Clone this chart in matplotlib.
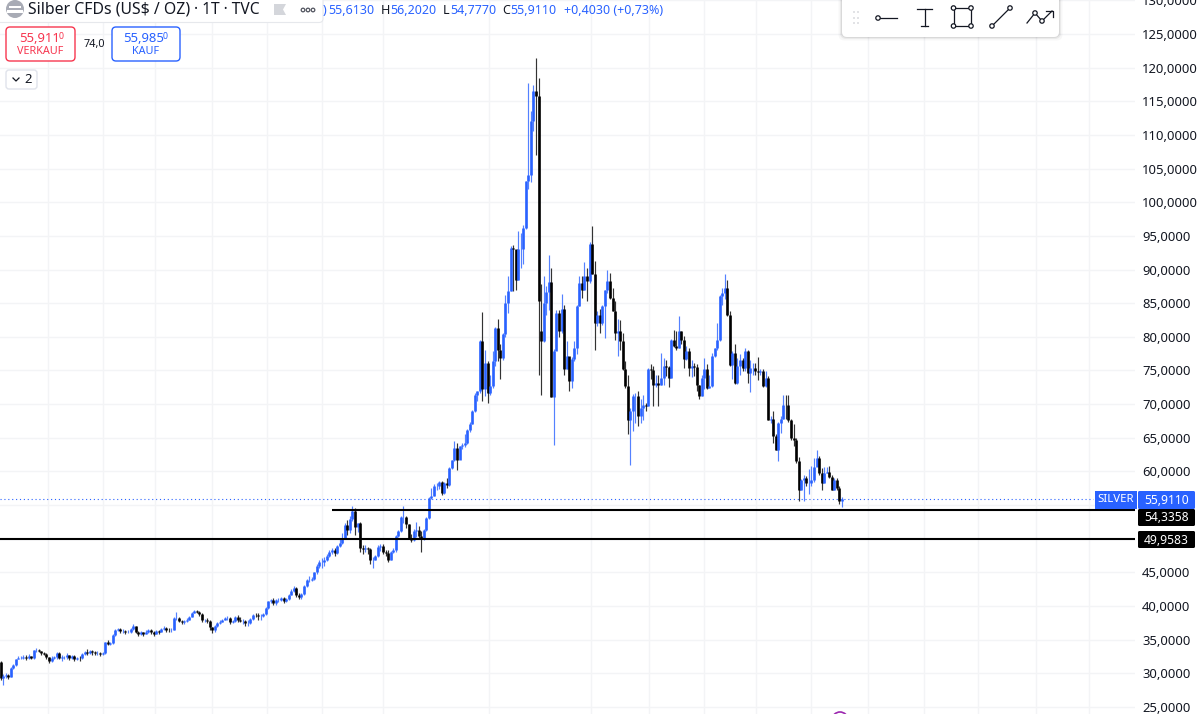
import matplotlib
matplotlib.use("Agg")
import matplotlib.pyplot as plt
from matplotlib.patches import FancyBboxPatch, Rectangle, Circle, Polygon

plt.rcParams['font.family'] = ['Noto Sans', 'DejaVu Sans']

# daily closes, ten bars per row
closes = [
    29.3, 29.6, 29.8, 29.5, 30.8, 31.2, 32.1, 32.3, 32.35, 32.5,
    32.3, 32.6, 32.3, 33.4, 33.5, 33.25, 33.0, 32.9, 32.4, 31.9,
    32.25, 32.4, 33.0, 32.3, 32.4, 32.4, 32.7, 32.25, 32.6, 32.1,
    32.3, 32.25, 32.9, 33.1, 33.0, 33.25, 33.1, 33.0, 33.0, 32.85,
    33.0, 34.6, 34.4, 34.5, 35.7, 36.5, 36.6, 36.3, 36.3, 36.2,
    36.2, 36.6, 37.0, 36.2, 35.9, 36.1, 35.9, 36.2, 36.4, 36.1,
    35.9, 36.3, 36.2, 36.6, 36.8, 36.5, 36.4, 36.5, 38.2, 38.2,
    37.85, 37.65, 37.8, 37.95, 38.35, 38.95, 39.2, 39.15, 38.85, 37.95,
    37.95, 37.85, 36.85, 36.4, 37.0, 37.45, 37.7, 37.95, 38.15, 38.2,
    37.7, 37.85, 38.35, 37.95, 37.85, 37.85, 37.45, 37.55, 38.05, 38.7,
    38.6, 38.45, 38.45, 38.8, 39.7, 40.7, 40.9, 40.5, 40.9, 40.9,
    41.2, 40.8, 41.0, 41.7, 42.3, 42.7, 41.7, 41.3, 41.8, 43.0,
    43.9, 43.9, 44.0, 45.0, 46.0, 46.6, 46.6, 46.9, 47.4, 48.1,
    48.35, 47.85, 48.85, 49.35, 50.0, 52.1, 51.3, 52.9, 54.1, 51.8,
    52.3, 48.6, 48.5, 48.6, 48.5, 46.9, 46.9, 47.4, 48.75, 48.85,
    48.1, 47.85, 46.9, 48.0, 48.35, 50.35, 51.1, 53.2, 53.3, 52.2,
    50.1, 49.85, 51.1, 51.35, 50.35, 49.95, 51.35, 53.1, 56.05, 56.4,
    57.9, 57.9, 58.5, 56.8, 58.3, 58.0, 60.5, 61.65, 63.5, 61.75,
    63.75, 64.0, 64.3, 66.2, 67.0, 68.95, 71.4, 71.9, 79.4, 72.2,
    76.15, 71.7, 72.7, 76.4, 81.35, 78.1, 76.9, 80.4, 85.1, 86.8,
    93.25, 93.1, 88.5, 93.0, 93.0, 96.2, 103.2, 104.0, 112.1, 116.6,
    115.8, 85.3, 79.4, 85.1, 86.6, 88.1, 71.0, 77.9, 83.6, 80.9,
    84.1, 75.2, 77.1, 73.4, 76.7, 78.4, 84.6, 88.0, 87.0, 89.1,
    88.3, 93.75, 89.3, 82.1, 83.3, 82.1, 84.6, 87.0, 88.3, 85.8,
    83.8, 80.6, 80.9, 79.4, 75.2, 72.7, 67.7, 69.0, 71.2, 71.2,
    68.2, 69.45, 69.9, 69.7, 75.15, 75.05, 72.9, 73.1, 72.9, 73.9,
    75.65, 75.55, 73.9, 79.6, 78.7, 78.4, 80.85, 79.6, 76.7, 77.9,
    75.4, 75.65, 75.55, 72.9, 71.2, 73.9, 75.15, 72.4, 72.7, 77.1,
    78.4, 79.6, 86.1, 86.55, 87.3, 83.3, 75.75, 77.6, 73.15, 75.65,
    76.5, 75.4, 77.9, 74.65, 75.4, 75.4, 74.9, 74.75, 74.9, 72.7,
    73.9, 67.7, 67.8, 65.2, 63.25, 67.2, 67.8, 69.9, 69.8, 67.7,
    65.0, 64.7, 61.5, 57.3, 58.8, 59.0, 58.3, 58.3, 58.8, 60.7,
    62.0, 59.8, 58.3, 59.7, 59.9, 59.2, 57.3, 58.8, 57.5, 55.55,
    55.911,
]
highs = [
    31.8, 29.9, 30.1, 29.9, 30.9, 31.4, 32.2, 32.6, 32.6, 32.8,
    32.7, 32.9, 32.6, 33.5, 33.7, 33.6, 33.3, 33.2, 33.0, 32.4,
    32.6, 32.6, 33.2, 33.1, 32.7, 32.6, 33.0, 32.8, 32.8, 32.7,
    32.5, 32.6, 33.0, 33.3, 33.6, 33.5, 33.4, 33.3, 33.3, 33.2,
    33.2, 34.7, 34.9, 34.7, 35.8, 36.6, 36.8, 36.7, 36.6, 36.5,
    36.4, 36.7, 37.3, 37.0, 36.3, 36.3, 36.2, 36.4, 36.6, 36.6,
    36.3, 36.5, 36.5, 36.8, 37.1, 36.9, 36.8, 36.8, 38.3, 39.1,
    38.3, 38.0, 38.0, 38.2, 38.5, 39.1, 39.4, 39.4, 39.3, 38.9,
    38.1, 38.2, 37.9, 36.9, 37.2, 37.6, 37.9, 38.1, 38.3, 38.5,
    38.3, 38.0, 38.5, 38.6, 38.3, 38.1, 37.9, 37.9, 38.2, 38.8,
    39.0, 38.9, 38.8, 38.9, 39.8, 40.8, 41.1, 41.2, 41.1, 41.2,
    41.4, 41.3, 41.2, 41.8, 42.5, 43.0, 42.8, 41.9, 41.9, 43.1,
    44.0, 44.4, 44.3, 45.1, 46.2, 46.9, 47.1, 47.3, 47.8, 48.4,
    48.6, 48.6, 49.0, 50.1, 50.8, 52.4, 52.8, 53.4, 54.8, 54.6,
    52.4, 52.5, 49.0, 49.0, 48.8, 48.6, 47.3, 47.6, 49.1, 49.2,
    49.2, 48.4, 48.4, 48.2, 48.6, 50.5, 51.3, 53.4, 54.9, 53.4,
    52.2, 50.7, 51.5, 52.5, 51.9, 51.2, 51.5, 53.2, 56.2, 57.5,
    58.2, 58.3, 58.6, 58.6, 58.5, 59.0, 60.6, 61.7, 64.5, 64.2,
    63.8, 64.2, 65.5, 66.3, 67.3, 69.1, 71.6, 72.0, 79.6, 83.7,
    78.1, 76.4, 74.4, 77.9, 81.4, 82.7, 79.0, 80.5, 86.2, 89.0,
    93.5, 93.6, 92.5, 95.7, 95.5, 96.6, 103.2, 117.7, 113.6, 117.4,
    121.5, 118.4, 87.8, 89.0, 87.5, 92.1, 90.3, 78.2, 84.0, 84.0,
    86.3, 84.8, 79.4, 76.9, 77.0, 79.4, 84.7, 89.0, 89.0, 91.1,
    90.3, 94.1, 96.4, 91.3, 83.8, 84.1, 84.8, 87.0, 90.0, 89.5,
    87.3, 85.3, 82.6, 82.5, 80.6, 76.4, 74.4, 69.5, 71.5, 71.7,
    72.0, 70.7, 71.4, 70.2, 75.4, 75.9, 75.65, 74.4, 74.4, 77.6,
    76.9, 76.6, 75.65, 79.7, 81.0, 80.85, 83.1, 80.85, 80.1, 78.6,
    78.4, 76.6, 76.1, 76.0, 72.9, 74.4, 76.9, 75.9, 74.4, 77.6,
    78.4, 82.1, 86.2, 87.3, 89.4, 88.45, 83.8, 77.9, 78.9, 76.9,
    77.4, 76.9, 78.4, 78.1, 76.6, 76.1, 76.1, 77.0, 75.15, 75.25,
    74.9, 74.15, 68.2, 69.0, 65.5, 67.3, 68.2, 71.3, 71.3, 71.4,
    67.8, 67.0, 65.0, 62.15, 58.9, 59.5, 59.3, 60.35, 60.75, 62.0,
    63.15, 62.25, 60.5, 60.65, 60.65, 60.75, 59.5, 59.05, 59.05, 57.8,
    56.202,
]
lows = [
    29.0, 28.3, 29.3, 29.1, 29.4, 30.6, 31.1, 32.1, 32.1, 32.2,
    32.0, 32.2, 32.1, 32.2, 33.2, 33.1, 32.8, 32.7, 32.2, 31.5,
    31.7, 32.1, 32.2, 32.1, 31.9, 32.1, 32.2, 32.0, 32.1, 31.8,
    32.0, 31.9, 32.1, 32.8, 32.7, 32.9, 32.8, 32.7, 32.8, 32.6,
    32.8, 32.9, 34.2, 34.2, 34.4, 35.5, 36.3, 36.0, 36.0, 35.9,
    36.0, 36.0, 36.5, 36.0, 35.6, 35.7, 35.5, 35.8, 36.0, 35.8,
    35.5, 35.8, 35.9, 36.1, 36.4, 36.2, 36.1, 36.2, 36.4, 37.9,
    37.6, 37.4, 37.4, 37.6, 37.9, 38.3, 38.9, 38.9, 38.5, 37.7,
    37.6, 37.5, 36.5, 36.0, 36.2, 36.9, 37.4, 37.7, 37.9, 37.9,
    37.4, 37.5, 37.7, 37.6, 37.6, 37.4, 37.0, 37.1, 37.4, 38.0,
    38.3, 38.0, 37.9, 38.3, 38.7, 39.6, 40.4, 40.2, 40.2, 40.6,
    40.8, 40.5, 40.6, 40.9, 41.6, 42.1, 41.4, 41.0, 41.1, 41.7,
    42.9, 43.6, 43.7, 43.8, 44.8, 45.6, 45.7, 46.0, 46.7, 47.3,
    47.8, 47.4, 47.7, 48.7, 49.2, 49.9, 50.6, 50.8, 52.6, 50.6,
    51.0, 48.0, 47.8, 48.0, 47.7, 46.3, 45.7, 46.8, 47.3, 48.2,
    47.8, 47.4, 46.6, 46.8, 47.9, 48.0, 50.2, 51.0, 52.4, 51.6,
    49.9, 49.5, 49.7, 50.3, 50.0, 48.0, 49.8, 51.1, 52.9, 55.9,
    56.3, 57.2, 57.4, 56.5, 56.6, 57.6, 57.8, 60.4, 61.5, 60.2,
    61.8, 63.4, 63.7, 64.1, 65.8, 67.1, 68.9, 70.5, 71.7, 70.4,
    71.2, 70.1, 71.3, 72.4, 75.7, 76.4, 73.8, 76.6, 80.0, 83.6,
    86.8, 86.8, 87.0, 88.4, 90.3, 90.8, 96.0, 102.0, 103.0, 110.6,
    107.0, 74.4, 71.4, 79.2, 83.3, 84.0, 71.0, 64.0, 78.6, 80.0,
    80.6, 74.4, 75.2, 72.0, 72.4, 76.4, 77.4, 84.6, 85.8, 87.0,
    85.3, 88.0, 89.3, 78.1, 81.6, 80.6, 81.8, 79.9, 86.5, 85.6,
    83.8, 79.6, 77.1, 78.1, 75.0, 72.4, 65.5, 61.0, 66.0, 67.2,
    66.7, 67.2, 67.7, 69.0, 69.7, 73.8, 69.7, 72.6, 69.7, 72.8,
    72.9, 74.15, 72.55, 73.9, 78.5, 78.1, 78.4, 78.9, 75.4, 76.6,
    74.15, 74.05, 74.15, 71.9, 70.8, 71.2, 72.2, 72.2, 72.4, 72.55,
    77.0, 78.1, 79.4, 84.8, 85.6, 83.1, 75.65, 73.8, 73.05, 73.05,
    74.4, 74.9, 74.9, 73.15, 71.8, 74.4, 74.4, 73.65, 74.4, 72.5,
    72.55, 67.6, 67.2, 64.3, 63.25, 61.5, 65.7, 67.8, 67.8, 67.3,
    64.7, 63.85, 61.25, 55.55, 57.3, 55.55, 57.8, 56.7, 57.8, 58.5,
    61.8, 59.5, 57.2, 58.3, 59.7, 59.0, 57.2, 57.3, 57.3, 55.2,
    54.777,
]
first_open = 31.7
# bars that did not open at the previous close
open_gaps = {212: 80.9, 330: 55.613}

price_ticks = list(range(25, 135, 5))
# 50 and 55 sit behind the price tags in the original
price_labels = ["25,0000", "30,0000", "35,0000", "40,0000", "45,0000", "",
                "", "60,0000", "65,0000", "70,0000", "75,0000", "80,0000",
                "85,0000", "90,0000", "95,0000", "100,0000", "105,0000", "110,0000",
                "115,0000", "120,0000", "125,0000", "130,0000"]
bold_labels = ["30,0000", "40,0000", "60,0000", "70,0000", "80,0000", "90,0000",
               "100,0000", "110,0000", "120,0000", "130,0000"]
# bar numbers of the vertical grid lines
grid_bars = [18.6, 40.2, 60.6, 83, 104.5, 126, 150, 191.6, 231.6, 254.3, 276, 296.3, 318, 340.2, 362.2, 383.3, 406, 427]

level_high = 54.3358
level_low = 49.9583
last_price = 55.9110

BLUE = "#2962ff"
RED = "#f7364f"
INK = "#131722"

opens = [first_open] + closes[:-1]
for bar, value in open_gaps.items():
    opens[bar] = value
bars = list(range(len(closes)))
colors = [BLUE if c >= o else "black" for o, c in zip(opens, closes)]

fig = plt.figure(figsize=(12, 7.14), dpi=100)
ax = fig.add_axes([0, 0, 1135 / 1200, 1])
ax.set_xlim(-0.2, 444.9)
ax.set_ylim(23.96, 130.05)

ax.set_xticks(grid_bars)
ax.set_xticklabels([])
ax.set_yticks(price_ticks)
ax.set_yticklabels(price_labels)
ax.yaxis.tick_right()
ax.tick_params(length=0, pad=5)
ax.tick_params(axis="y", labelsize=9.4, labelcolor=INK)
for label in ax.get_yticklabels():
    label.set_fontweight("semibold" if label.get_text() in bold_labels else "normal")
for side in ax.spines.values():
    side.set_visible(False)
ax.grid(color="#f3f4f6", lw=1)
ax.set_axisbelow(True)

# candles
ax.vlines(bars, lows, highs, colors=colors, lw=0.85, alpha=0.8, zorder=2)
ax.vlines(bars, opens, closes, colors=colors, lw=1.9, zorder=3)

# price lines
ax.axhline(last_price, xmax=1093 / 1135, color=BLUE, lw=0.8, ls=(0, (1, 2.5)), zorder=1)
ax.hlines(level_high, 130, 444.9, color="black", lw=1.5, zorder=4)
ax.axhline(level_low, color="black", lw=1.5, zorder=4)

# everything from here on is screen furniture, in pixels
ui = fig.add_axes([0, 0, 1, 1], facecolor="none")
ui.set_xlim(0, 1200)
ui.set_ylim(714, 0)
ui.axis("off")


def box(x, y, w, h, face="white", edge="none", lw=1, rad=3):
    ui.add_patch(FancyBboxPatch((x, y), w, h, boxstyle=f"round,pad=0,rounding_size={rad}",
                                fc=face, ec=edge, lw=lw))


# price axis tags
ui.add_patch(Rectangle((1095, 491), 42, 18, fc=BLUE))
ui.text(1116, 500, "SILVER", color="white", fontsize=8.2, ha="center", va="center")
box(1138, 491, 57, 18, BLUE, rad=1.5)
ui.text(1166.5, 500, "55,9110", color="white", fontsize=8.7, ha="center", va="center")
box(1138, 509, 57, 17, "black", rad=1.5)
ui.text(1166.5, 517.5, "54,3358", color="white", fontsize=8.7, ha="center", va="center")
box(1138, 531, 57, 17, "black", rad=1.5)
ui.text(1166.5, 540, "49,9583", color="white", fontsize=8.7, ha="center", va="center")

# header
box(-4, -4, 327, 26.5, "white", "#e6e8ec", 0.8, 4)
ui.add_patch(Circle((15, 9), 9, fc="#a8abb5", ec="none"))
ui.add_patch(Rectangle((9, 6), 12, 2, fc="white"))
ui.add_patch(Rectangle((7, 10), 16, 2.5, fc="white"))
ui.text(28, 10, "Silber CFDs (US$ / OZ)", color=INK, fontsize=11.4, va="center")
ui.text(194, 10, "· 1T · TVC", color=INK, fontsize=11.2, va="center")
ui.add_patch(Polygon([(274, 4), (286, 4), (283, 9.5), (286, 15), (274, 15)], fc="#d4d6db"))
for px in (303, 308, 313):
    ui.add_patch(Circle((px, 10), 1.8, fc="none", ec="#50535e", lw=0.9))

ui.text(325, 10, ")", color=BLUE, fontsize=9, va="center", ha="center")
for px, head, gap, value in [(328, "", 0, "55,6130"), (381, "H", 9, "56,2020"),
                             (443, "L", 7, "54,7770"), (502, "C", 8, "55,9110")]:
    if head:
        ui.text(px, 10, head, color=INK, fontsize=9, va="center")
    ui.text(px + gap, 10, value, color=BLUE, fontsize=9, va="center")
ui.text(564, 10, "+0,4030 (+0,73%)", color=BLUE, fontsize=9, va="center")

# sell / buy boxes
box(6, 27, 69, 34, "white", RED, 1, 4)
ui.text(40, 39, "55,911", color=RED, fontsize=9.4, ha="center", va="center", weight="semibold")
ui.text(59, 36.5, "0", color=RED, fontsize=6.4, ha="left", va="center")
ui.text(40, 52, "VERKAUF", color=RED, fontsize=7.8, ha="center", va="center")
ui.text(94, 44, "74,0", color=INK, fontsize=7.8, ha="center", va="center")
box(112, 27, 68, 34, "white", BLUE, 1, 4)
ui.text(144, 39, "55,985", color=BLUE, fontsize=9.4, ha="center", va="center", weight="semibold")
ui.text(163, 36.5, "0", color=BLUE, fontsize=6.4, ha="left", va="center")
ui.text(146, 52, "KAUF", color=BLUE, fontsize=7.8, ha="center", va="center")
box(6, 70, 31, 19, "white", "#e0e3eb", 1, 3)
ui.plot([13, 16, 19], [78, 81, 78], color=INK, lw=0.9)
ui.text(28, 79.5, "2", color=INK, fontsize=9.4, ha="center", va="center")

# drawing toolbar
for pad, alpha in [(3.5, 0.03), (2, 0.05), (1, 0.07)]:
    box(842 - pad, -6, 217 + 2 * pad, 43 + pad, "black", rad=6)
    ui.patches[-1].set_alpha(alpha)
box(842, -6, 217, 43, "white", rad=5)
for px in (854, 858):
    for py in (12, 18, 23):
        ui.add_patch(Circle((px, py), 0.8, fc="#c6c8ce"))


def node(x, y):
    ui.add_patch(Circle((x, y), 2.2, fc="white", ec=INK, lw=0.9, zorder=6))


TOOL = dict(color=INK, lw=0.9, zorder=5)
ui.plot([878, 897], [18, 18], **TOOL)
node(878, 18)
ui.plot([917, 932], [9, 9], **TOOL)
ui.plot([924.5, 924.5], [9, 26], **TOOL)
ui.plot([921, 928], [26, 26], **TOOL)
ui.plot([953.5, 971, 971, 953.5, 953.5], [8, 8, 26, 26, 8], **TOOL)
for px, py in [(953.5, 8), (971, 8), (953.5, 26), (971, 26)]:
    node(px, py)
ui.plot([992, 1010], [26, 8], **TOOL)
node(992, 26)
node(1010, 8)
ui.plot([1027, 1035, 1042, 1052], [23, 13, 21, 11], **TOOL)
ui.plot([1046, 1052.5, 1052.5], [11, 11, 17], **TOOL)
node(1035, 13)
node(1042, 21)

# half hidden marker at the bottom edge
ui.add_patch(Circle((840, 720), 8, fc="none", ec="#9c27b0", lw=1.2, clip_on=True))

fig.savefig("out.png", dpi=100)
